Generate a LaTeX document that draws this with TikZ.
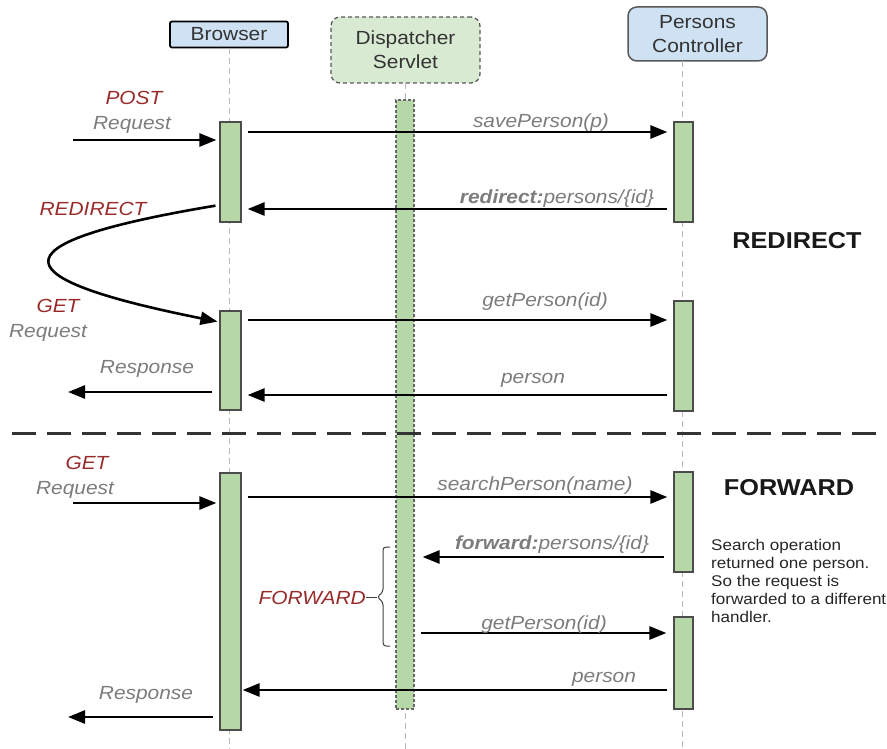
\documentclass[tikz,border=0pt]{standalone}
\usepackage{fontspec}
\setmainfont{Liberation Sans}[FakeStretch=1.1]
\usetikzlibrary{arrows.meta,calc}
\definecolor{hdrblue}{HTML}{CFE2F3}
\definecolor{hdrgreen}{HTML}{D9EAD3}
\definecolor{bargreen}{HTML}{B6D7A8}
\definecolor{tagred}{HTML}{992B2B}
\definecolor{lblgray}{HTML}{7C7C7C}
\definecolor{hdrtext}{HTML}{333333}
\begin{document}
\begin{tikzpicture}[x=1pt,y=-1pt,
  msg/.style={line width=2.6pt,-{Triangle[length=17pt,width=13pt]}},
  life/.style={draw=gray!55,dash pattern=on 6pt off 4pt,line width=1pt},
  bar/.style={draw=black!70,fill=bargreen,line width=1.2pt,minimum width=20pt,inner sep=0pt},
  dbar/.style={bar,dash pattern=on 3pt off 2pt,draw=black!60},
  lbl/.style={text=lblgray,font=\fontsize{19}{21}\selectfont\itshape,inner sep=0pt,anchor=base},
  tag/.style={text=tagred,font=\fontsize{19}{21}\selectfont\itshape,inner sep=0pt,anchor=base},
  hdr/.style={text=hdrtext,font=\fontsize{19}{24}\selectfont,align=center,inner sep=0pt},
  heading/.style={text=black!90,font=\fontsize{23}{26}\selectfont\bfseries,inner sep=0pt,anchor=base}
]
\useasboundingbox (0,0) rectangle (887,749);

% headers
\node[hdr,draw=black,line width=1.8pt,fill=hdrblue,rounded corners=2pt,minimum width=118pt,minimum height=26pt] (hb) at (229,34.5) {Browser};
\node[hdr,draw=black!65,line width=1.3pt,dash pattern=on 4pt off 3pt,fill=hdrgreen,rounded corners=9pt,minimum width=149pt,minimum height=66pt] (hd) at (405.5,50) {Dispatcher\\Servlet};
\node[hdr,draw=black!65,line width=1.5pt,fill=hdrblue,rounded corners=9pt,minimum width=139pt,minimum height=54pt] (hp) at (697.5,34) {Persons\\Controller};

% lifeline end points
\coordinate (lb0) at (229,48);   \coordinate (lb1) at (229,749);
\coordinate (ld0) at (405,83);   \coordinate (ld1) at (405,749);
\coordinate (lp0) at (682,61);   \coordinate (lp1) at (682,749);
\draw[life] (lb0) -- (lb1);
\draw[life] (ld0) -- (ld1);
\draw[life] (lp0) -- (lp1);

% activation bars
\node[bar,minimum width=21pt,minimum height=100pt] (b1) at (230.5,172) {};
\node[bar,minimum width=21pt,minimum height=99pt]  (b2) at (230.5,360.5) {};
\node[bar,minimum width=21pt,minimum height=257pt] (b3) at (230.5,601.5) {};
\node[dbar,minimum width=18pt,minimum height=609pt] (d1) at (405,404.5) {};
\node[bar,minimum width=19pt,minimum height=100pt] (p1) at (683.5,172) {};
\node[bar,minimum width=19pt,minimum height=110pt] (p2) at (683.5,356) {};
\node[bar,minimum width=19pt,minimum height=100pt] (p3) at (683.5,522) {};
\node[bar,minimum width=19pt,minimum height=92pt]  (p4) at (683.5,663) {};

% free ends
\coordinate (in1) at (73,140);
\coordinate (out1) at (68,392);
\coordinate (in2) at (73,503);
\coordinate (out2) at (68,717);
\coordinate (sepL) at (12,433);
\coordinate (sepR) at (887,433);

% REDIRECT part
\draw[msg,shorten >=3pt] (in1) -- (b1.west |- in1);
\draw[msg,shorten <=6pt,shorten >=6pt] (b1.east |- 0,132) -- (p1.west |- 0,132);
\draw[msg,shorten <=6pt,shorten >=6pt] (p1.west |- 0,209) -- (b1.east |- 0,209);
\draw[msg,shorten <=4pt,shorten >=2pt] (b1.west |- 0,205) .. controls (-20,245) and (10,280) .. (b2.west |- 0,322);
\draw[msg,shorten <=6pt,shorten >=6pt] (b2.east |- 0,320) -- (p2.west |- 0,320);
\draw[msg,shorten <=6pt,shorten >=6pt] (p2.west |- 0,395) -- (b2.east |- 0,395);
\draw[msg,shorten <=7pt] (b2.west |- out1) -- (out1);

% separator
\draw[line width=3pt,draw=black!80,dash pattern=on 24pt off 11pt] (sepL) -- (sepR);

% FORWARD part
\draw[msg,shorten >=3pt] (in2) -- (b3.west |- in2);
\draw[msg,shorten <=6pt,shorten >=6pt] (b3.east |- 0,497) -- (p3.west |- 0,497);
\draw[msg,shorten <=9pt,shorten >=8pt] (p3.west |- 0,557) -- (d1.east |- 0,557);
\draw[msg,shorten <=6pt,shorten >=7pt] (d1.east |- 0,633) -- (p4.west |- 0,633);
\draw[msg,shorten <=6pt,shorten >=1pt] (p4.west |- 0,690) -- (b3.east |- 0,690);
\draw[msg,shorten <=6pt] (b3.west |- out2) -- (out2);

% brace
\coordinate (brtip) at (377,597);
\draw[line width=1pt,draw=black!75,rounded corners=3pt] (390,547) -- (383,547) -- (383,592) -- (brtip) -- (383,602) -- (383,646) -- (390,646);

% labels
\node[tag] (tpost) at (134,105) {POST};
\node[lbl] (treq1) at (132,130) {Request};
\node[tag] (tredir) at (93,215) {REDIRECT};
\node[tag] (tget2) at (58,312) {GET};
\node[lbl] (treq2) at (48,337) {Request};
\node[lbl] (tresp1) at (147,373) {Response};
\node[tag] (tget3) at (87,469) {GET};
\node[lbl] (treq3) at (75,494) {Request};
\node[tag,anchor=base east] (tfwd) at (366,604) {FORWARD};
\draw[line width=1pt,draw=black!75] (tfwd.east |- brtip) -- (brtip);
\node[lbl] (tresp2) at (146,699) {Response};

\node[lbl] (lsave) at (541,128) {savePerson(p)};
\node[lbl] (lredir) at (557,204) {\textbf{redirect:}persons/\{id\}};
\node[lbl] (lget1) at (545,306) {getPerson(id)};
\node[lbl] (lper1) at (533,383) {person};
\node[lbl] (lsearch) at (535,490) {searchPerson(name)};
\node[lbl] (lfwd) at (552,549) {\textbf{forward:}persons/\{id\}};
\node[lbl] (lget2) at (544,629) {getPerson(id)};
\node[lbl] (lper2) at (604,682) {person};

\node[heading] (hred) at (797,248) {REDIRECT};
\node[heading] (hfwd) at (789,495) {FORWARD};
\node[anchor=north west,inner sep=0pt,align=left,text=black!85,font=\fontsize{15.5}{18}\selectfont] (note) at (711,539)
  {Search operation\\returned one person.\\So the request is\\forwarded to a different\\handler.};
\end{tikzpicture}
\end{document}
